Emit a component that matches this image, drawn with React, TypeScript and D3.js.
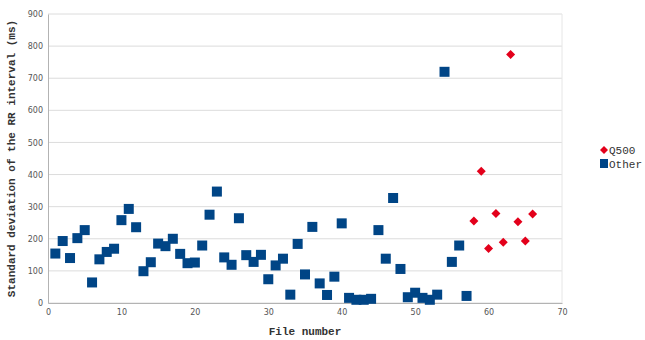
import { useEffect, useRef } from "react";
import * as d3 from "d3";

// File numbers and standard deviation of RR interval (ms)
const otherFiles = [
  1, 2, 3, 4, 5, 6, 7, 8, 9, 10, 11, 12, 13, 14, 15, 16, 17, 18, 19, 20,
  21, 22, 23, 24, 25, 26, 27, 28, 29, 30, 31, 32, 33, 34, 35, 36, 37, 38, 39, 40,
  41, 42, 43, 44, 45, 46, 47, 48, 49, 50, 51, 52, 53, 54, 55, 56, 57,
];
const otherValues = [
  154, 193, 140, 202, 227, 64, 136, 159, 169, 258, 293, 236, 99, 127, 185, 177, 200, 153, 124, 126,
  179, 275, 347, 142, 119, 264, 149, 128, 150, 74, 117, 138, 26, 184, 89, 237, 61, 25, 82, 248,
  16, 10, 10, 13, 227, 138, 327, 106, 18, 32, 16, 10, 26, 720, 128, 179, 22,
];
const q500Files = [58, 59, 60, 61, 62, 63, 64, 65, 66];
const q500Values = [255, 410, 170, 279, 189, 774, 253, 193, 277];

const xTicks = [0, 10, 20, 30, 40, 50, 60, 70];
const yTicks = [0, 100, 200, 300, 400, 500, 600, 700, 800, 900];

const BLUE = "#004586";
const RED = "#e3001b";

const App = () => {
  const svgRef = useRef<SVGSVGElement>(null);

  useEffect(() => {
    const svg = d3.select(svgRef.current);
    svg.selectAll("*").remove();

    const width = 645;
    const height = 340;
    const margin = { top: 14, right: 83, bottom: 37, left: 48 };

    const x = d3.scaleLinear().domain([0, 70]).range([margin.left, width - margin.right]);
    const y = d3.scaleLinear().domain([0, 900]).range([height - margin.bottom, margin.top]);

    // grid
    svg.append("g")
      .selectAll("line")
      .data(yTicks)
      .join("line")
      .attr("x1", x(0))
      .attr("x2", x(70))
      .attr("y1", d => y(d))
      .attr("y2", d => y(d))
      .attr("stroke", "#dcdcdc")
      .attr("stroke-width", 1);

    svg.append("line")
      .attr("x1", x(70)).attr("x2", x(70))
      .attr("y1", y(0)).attr("y2", y(900))
      .attr("stroke", "#e6e6e6");

    const xAxis = svg.append("g")
      .attr("transform", `translate(0,${y(0)})`)
      .call(d3.axisBottom(x).tickValues(xTicks).tickSize(0).tickPadding(6));
    xAxis.select(".domain").attr("stroke", "#b3b3b3");

    const yAxis = svg.append("g")
      .attr("transform", `translate(${x(0)},0)`)
      .call(d3.axisLeft(y).tickValues(yTicks).tickSize(0).tickPadding(5));
    yAxis.select(".domain").attr("stroke", "#b3b3b3");

    svg.selectAll(".tick text")
      .attr("fill", "#555")
      .attr("font-family", "DejaVu Sans, sans-serif")
      .attr("font-size", 8);

    // series
    const other = otherFiles.map((f, i) => ({ f, v: otherValues[i] }));
    const q500 = q500Files.map((f, i) => ({ f, v: q500Values[i] }));

    svg.append("g")
      .selectAll("rect")
      .data(other)
      .join("rect")
      .attr("x", d => x(d.f) - 5)
      .attr("y", d => y(d.v) - 5)
      .attr("width", 10)
      .attr("height", 10)
      .attr("fill", BLUE);

    svg.append("g")
      .selectAll("path")
      .data(q500)
      .join("path")
      .attr("d", d => `M${x(d.f)},${y(d.v) - 4.5}l4.5,4.5l-4.5,4.5l-4.5,-4.5z`)
      .attr("fill", RED);

    // axis titles
    svg.append("text")
      .attr("x", (x(0) + x(70)) / 2)
      .attr("y", 335)
      .attr("text-anchor", "middle")
      .attr("font-family", "Liberation Mono, monospace")
      .attr("font-weight", "bold")
      .attr("font-size", 11)
      .attr("fill", "#333")
      .text("File number");

    svg.append("text")
      .attr("transform", `translate(15,${(y(0) + y(900)) / 2}) rotate(-90)`)
      .attr("text-anchor", "middle")
      .attr("font-family", "Liberation Mono, monospace")
      .attr("font-weight", "bold")
      .attr("font-size", 11)
      .attr("fill", "#333")
      .text("Standard deviation of the RR interval (ms)");

    // legend
    const legend = svg.append("g").attr("font-family", "Liberation Mono, monospace").attr("font-size", 11).attr("fill", "#333");
    legend.append("path").attr("d", "M604,146l4,4l-4,4l-4,-4z").attr("fill", RED);
    legend.append("text").attr("x", 609).attr("y", 154).text("Q500");
    legend.append("rect").attr("x", 600).attr("y", 159).attr("width", 8).attr("height", 9).attr("fill", BLUE);
    legend.append("text").attr("x", 609).attr("y", 168).text("Other");
  }, []);

  return (
    <svg ref={svgRef} width={645} height={340} style={{ position: "absolute", left: 0, top: 0 }}></svg>
  );
};

export default App;
